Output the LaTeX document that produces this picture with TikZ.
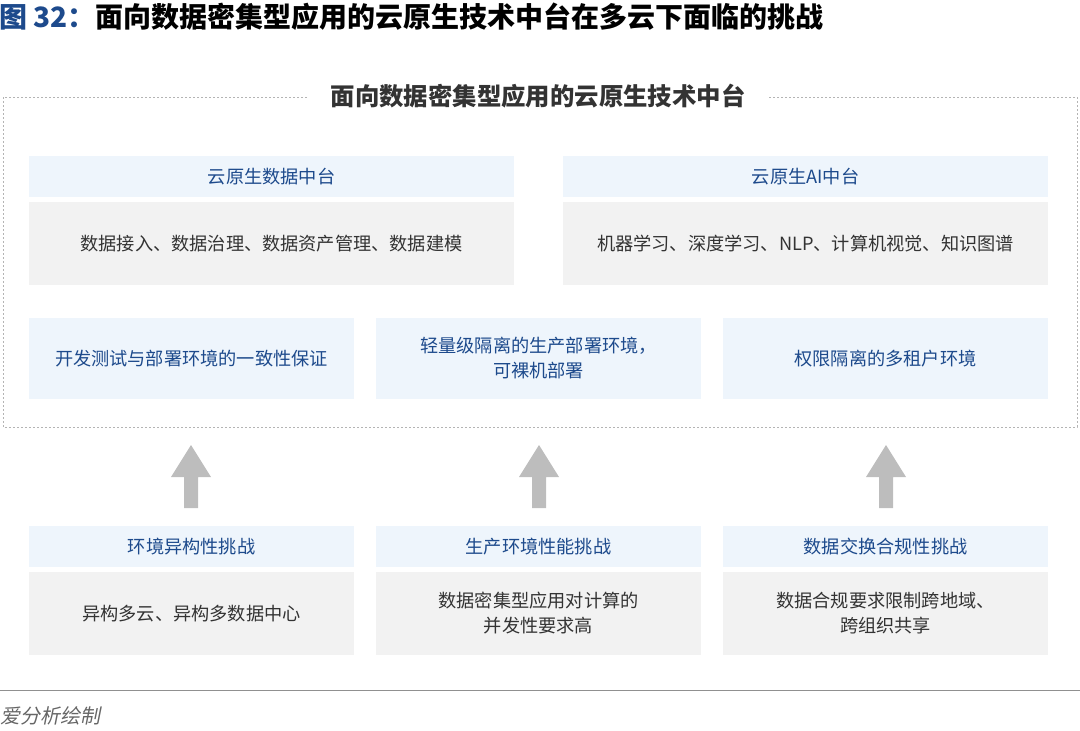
\documentclass[tikz,border=0pt]{standalone}
\usepackage{fontspec}
\setmainfont{Noto Sans CJK SC}
\newfontfamily\cjkslant{Noto Sans CJK SC}[FakeSlant=0.2]
\usepackage{tikz}
\definecolor{capblue}{HTML}{1D4A8C}
\definecolor{headfill}{HTML}{EEF5FC}
\definecolor{bodyfill}{HTML}{F2F2F2}
\definecolor{bodytext}{HTML}{333333}
\definecolor{arrowgray}{HTML}{BDBDBD}
\definecolor{framegray}{HTML}{B4B4B4}
\begin{document}
\begin{tikzpicture}[x=1pt, y=-1pt,
  every node/.style={inner sep=0pt, outer sep=0pt},
  headbox/.style={fill=headfill, minimum height=41pt, text=capblue,
    font=\fontsize{18.2pt}{22pt}\selectfont},
  bodybox/.style={fill=bodyfill, minimum height=83pt, text=bodytext, align=center,
    font=\fontsize{18.2pt}{25pt}\selectfont},
  midbox/.style={fill=headfill, minimum width=325pt, minimum height=81pt, text=capblue,
    align=center, font=\fontsize{18.2pt}{25pt}\selectfont}]
  \useasboundingbox (0,0) rectangle (1080,731);
  % caption
  \node[anchor=west, font=\fontsize{28pt}{32pt}\selectfont\bfseries] (cap) at (-1,17)
    {\textcolor{capblue}{图 32：}面向数据密集型应用的云原生技术中台在多云下面临的挑战};
  % dotted frame with its title
  \draw[framegray, line width=1pt, dash pattern=on 2pt off 2pt] (3,97) rectangle (1077,427);
  \node[fill=white, inner xsep=22pt, inner ysep=4pt, text=bodytext,
    font=\fontsize{24.4pt}{28pt}\selectfont\bfseries] (frametitle) at (538,96)
    {面向数据密集型应用的云原生技术中台};
  % two platforms
  \node[headbox, minimum width=485pt] (datah) at (271.5,176.5) {云原生数据中台};
  \node[bodybox, minimum width=485pt] (datab) at (271.5,243.5) {数据接入、数据治理、数据资产管理、数据建模};
  \node[headbox, minimum width=485pt] (aih) at (805.5,176.5) {云原生AI中台};
  \node[bodybox, minimum width=485pt] (aib) at (805.5,243.5) {机器学习、深度学习、NLP、计算机视觉、知识图谱};
  % capabilities
  \node[midbox] (cap1) at (191.5,358.5) {开发测试与部署环境的一致性保证};
  \node[midbox] (cap2) at (538.5,358.5) {轻量级隔离的生产部署环境，\\可裸机部署};
  \node[midbox] (cap3) at (885.5,358.5) {权限隔离的多租户环境};
  % up arrows
  \foreach \ax in {191,539,886}
    \fill[arrowgray] (\ax,445) -- (\ax+20,477) -- (\ax+7,477) -- (\ax+7,508)
      -- (\ax-7,508) -- (\ax-7,477) -- (\ax-20,477) -- cycle;
  % challenges
  \node[headbox, minimum width=325pt] (ch1) at (191.5,546.5) {环境异构性挑战};
  \node[bodybox, minimum width=325pt] (cb1) at (191.5,613.5) {异构多云、异构多数据中心};
  \node[headbox, minimum width=325pt] (ch2) at (538.5,546.5) {生产环境性能挑战};
  \node[bodybox, minimum width=325pt] (cb2) at (538.5,613.5) {数据密集型应用对计算的\\并发性要求高};
  \node[headbox, minimum width=325pt] (ch3) at (885.5,546.5) {数据交换合规性挑战};
  \node[bodybox, minimum width=325pt] (cb3) at (885.5,613.5) {数据合规要求限制跨地域、\\跨组织共享};
  % source
  \draw[framegray!80!black, line width=1pt] (0,690) -- (1080,690);
  \node[anchor=west, text=bodytext!75, font=\cjkslant\fontsize{20pt}{24pt}\selectfont] (src) at (1,716) {爱分析绘制};
\end{tikzpicture}
\end{document}
